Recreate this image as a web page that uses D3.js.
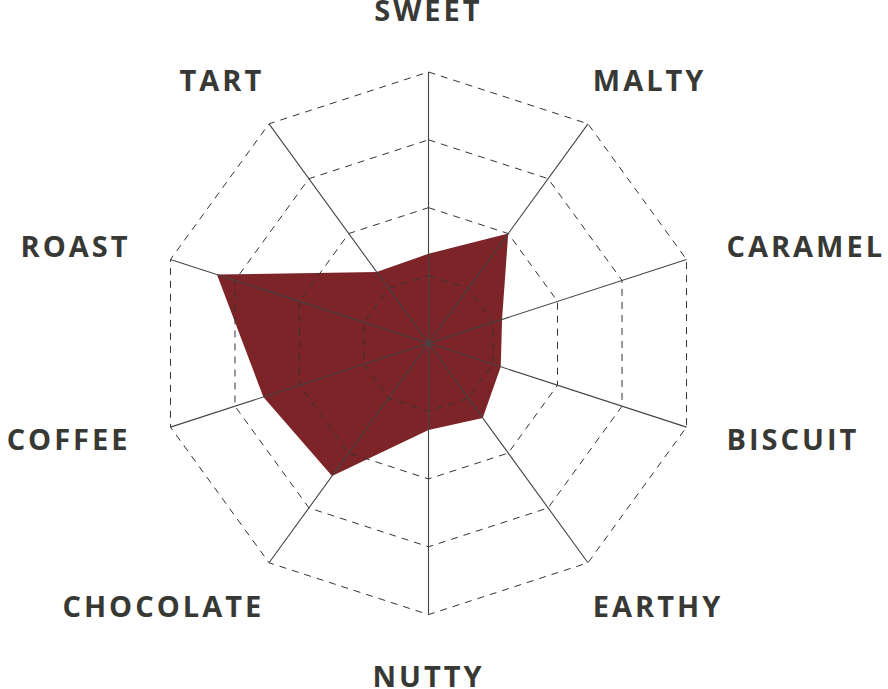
<!DOCTYPE html>
<html>
<head>
<meta charset="utf-8">
<script src="https://cdn.jsdelivr.net/npm/d3@7"></script>
<style>
  html, body { margin: 0; padding: 0; background: #fff; }
  .label { font-family: "Open Sans", sans-serif; font-weight: 700; fill: #383935; }
</style>
</head>
<body>
<div id="canvas"></div>
<script>
// flavour profile, values on a 0-100 scale
var flavours = ["SWEET", "MALTY", "CARAMEL", "BISCUIT", "EARTHY", "NUTTY", "CHOCOLATE", "COFFEE", "ROAST", "TART"];
var scores = [33, 50, 28.5, 28, 34, 32, 60.5, 64, 82, 32.5];
var gridLevels = [25, 50, 75, 100];

(function () {
    var width = 888, height = 689;
    var cx = 428.5, cy = 343.3, radius = 271.3;

    var svg = d3.select('#canvas')
        .append('svg')
        .attr('width', width)
        .attr('height', height);

    var g = svg.append('g').attr('transform', 'translate(' + cx + ',' + cy + ')');

    var r = d3.scaleLinear().domain([0, 100]).range([0, radius]);
    var angle = d3.scaleLinear().domain([0, flavours.length]).range([0, 2 * Math.PI]);

    function pt(i, v) {
        var a = angle(i);
        return [Math.sin(a) * r(v), -Math.cos(a) * r(v)];
    }

    // the shape first, grid and spokes sit on top of it
    var line = d3.line().curve(d3.curveLinearClosed);
    g.append('path')
        .attr('d', line(scores.map(function (d, i) { return pt(i, d); })))
        .style('fill', '#7d2429')
        .style('stroke', 'none');

    g.selectAll('path.grid')
        .data(gridLevels)
        .enter()
        .append('path')
        .attr('class', 'grid')
        .attr('d', function (lv) {
            return line(flavours.map(function (f, i) { return pt(i, lv); }));
        })
        .style('fill', 'none')
        .style('stroke', '#333')
        .style('stroke-width', 1)
        .style('stroke-dasharray', '7,6');

    g.selectAll('line.axis')
        .data(flavours)
        .enter()
        .append('line')
        .attr('class', 'axis')
        .attr('x1', 0).attr('y1', 0)
        .attr('x2', function (d, i) { return pt(i, 100)[0]; })
        .attr('y2', function (d, i) { return pt(i, 100)[1]; })
        .style('stroke', '#444')
        .style('stroke-width', 1.1);

    g.append('circle').attr('r', 2.5).style('fill', '#444');

    // labels: start/end anchored on the sides, centred top and bottom
    g.selectAll('text.label')
        .data(flavours)
        .enter()
        .append('text')
        .attr('class', 'label')
        .attr('x', function (d, i) {
            var s = Math.sin(angle(i));
            if (Math.abs(s) < 0.01) return 0;
            return s * 368 - (s > 0 ? 52 : -52);
        })
        .attr('y', function (d, i) {
            var c = Math.cos(angle(i));
            return -c * (310 + 23 * c * c);
        })
        .attr('dy', '0.36em')
        .attr('text-anchor', function (d, i) {
            var s = Math.sin(angle(i));
            if (Math.abs(s) < 0.01) return 'middle';
            return s > 0 ? 'start' : 'end';
        })
        .style('font-size', '29px')
        .style('letter-spacing', '3px')
        .text(function (d) { return d; });
})();
</script>
</body>
</html>
